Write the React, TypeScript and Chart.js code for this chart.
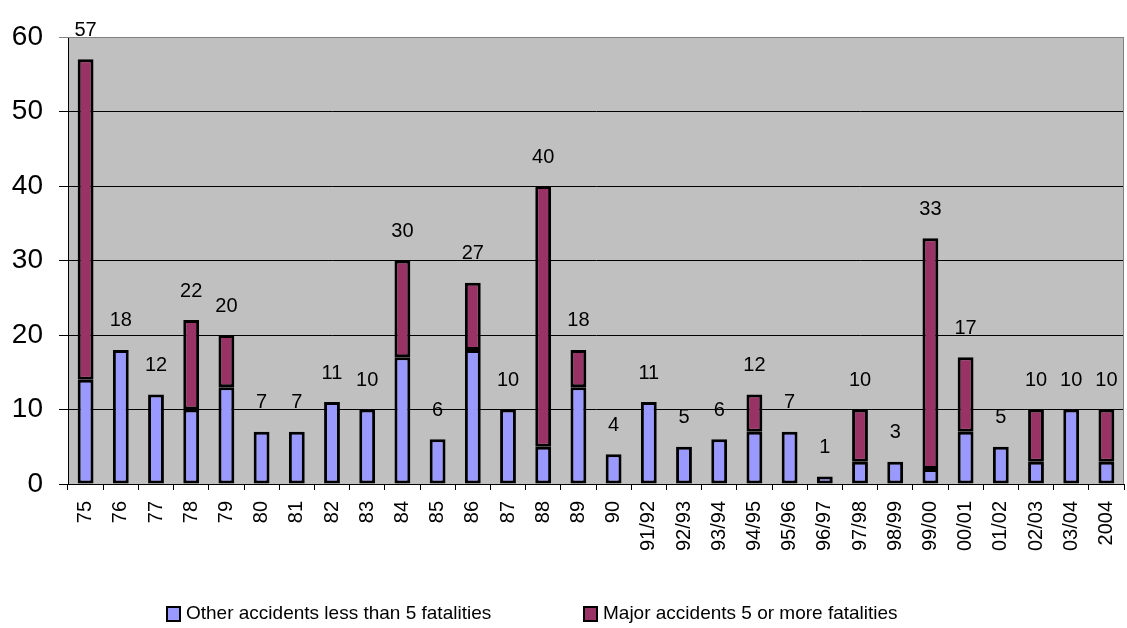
import React, { useEffect, useRef } from "react";
import { Chart, registerables } from "chart.js";

Chart.register(...registerables);

const categories = [
  "75", "76", "77", "78", "79", "80", "81", "82", "83", "84",
  "85", "86", "87", "88", "89", "90", "91/92", "92/93", "93/94", "94/95",
  "95/96", "96/97", "97/98", "98/99", "99/00", "00/01", "01/02", "02/03", "03/04", "2004",
];

const otherAccidents = [
  14, 18, 12, 10, 13, 7, 7, 11, 10, 17,
  6, 18, 10, 5, 13, 4, 11, 5, 6, 7,
  7, 1, 3, 3, 2, 7, 5, 3, 10, 3,
];

const majorAccidents = [
  43, 0, 0, 12, 7, 0, 0, 0, 0, 13,
  0, 9, 0, 35, 5, 0, 0, 0, 0, 5,
  0, 0, 7, 0, 31, 10, 0, 7, 0, 7,
];

const seriesLabels = [
  "Other accidents less than 5 fatalities",
  "Major accidents 5 or more fatalities",
];

const yTicks = [0, 10, 20, 30, 40, 50, 60];

const FONT = "Arial, 'Liberation Sans', sans-serif";

export default function App() {
  const canvasRef = useRef<HTMLCanvasElement | null>(null);

  useEffect(() => {
    document.body.style.margin = "0";
    const canvas = canvasRef.current;
    if (!canvas) return;

    const bgPlugin = {
      id: "plotBg",
      beforeDraw(chart: any) {
        const { ctx, chartArea } = chart;
        ctx.save();
        ctx.fillStyle = "#C0C0C0";
        ctx.fillRect(chartArea.left, chartArea.top, chartArea.right - chartArea.left, chartArea.bottom - chartArea.top);
        ctx.restore();
      },
      afterDraw(chart: any) {
        const { ctx, chartArea } = chart;
        ctx.save();
        ctx.strokeStyle = "#808080";
        ctx.lineWidth = 1;
        ctx.beginPath();
        ctx.moveTo(chartArea.left, chartArea.top + 0.5);
        ctx.lineTo(chartArea.right - 0.5, chartArea.top + 0.5);
        ctx.lineTo(chartArea.right - 0.5, chartArea.bottom);
        ctx.stroke();
        ctx.restore();
      },
    };

    const totalsPlugin = {
      id: "totals",
      afterDatasetsDraw(chart: any) {
        const { ctx, scales } = chart;
        ctx.save();
        ctx.font = `20px ${FONT}`;
        ctx.fillStyle = "#000";
        ctx.textAlign = "center";
        ctx.textBaseline = "middle";
        categories.forEach((_, i) => {
          const total = otherAccidents[i] + majorAccidents[i];
          const x = scales.x.getPixelForValue(i);
          const y = scales.y.getPixelForValue(total);
          ctx.fillText(String(total), x, y - 29);
        });
        ctx.restore();
      },
    };

    const legendPlugin = {
      id: "customLegend",
      afterDraw(chart: any) {
        const { ctx } = chart;
        const items = [
          { x: 167, color: "#9999FF", text: seriesLabels[0] },
          { x: 584, color: "#993366", text: seriesLabels[1] },
        ];
        ctx.save();
        ctx.font = `19px ${FONT}`;
        ctx.textBaseline = "middle";
        ctx.textAlign = "left";
        items.forEach((it) => {
          ctx.fillStyle = it.color;
          ctx.fillRect(it.x, 607, 13, 14);
          ctx.strokeStyle = "#000";
          ctx.lineWidth = 2;
          ctx.strokeRect(it.x, 607, 13, 14);
          ctx.fillStyle = "#000";
          ctx.fillText(it.text, it.x + 19, 614);
        });
        ctx.restore();
      },
    };

    const chart = new Chart(canvas, {
      type: "bar",
      data: {
        labels: categories,
        datasets: [
          {
            label: seriesLabels[0],
            data: otherAccidents.map((v) => (v === 0 ? null : v)),
            backgroundColor: "#9999FF",
            borderColor: "#000000",
            borderWidth: 3,
            borderSkipped: false,
            barPercentage: 0.45,
            categoryPercentage: 1,
          },
          {
            label: seriesLabels[1],
            data: majorAccidents.map((v) => (v === 0 ? null : v)),
            backgroundColor: "#993366",
            borderColor: "#000000",
            borderWidth: 3,
            borderSkipped: false,
            barPercentage: 0.45,
            categoryPercentage: 1,
          },
        ],
      },
      options: {
        responsive: false,
        animation: false,
        layout: { padding: { top: 37, right: 3, left: 0, bottom: 0 } },
        plugins: {
          legend: { display: false },
          tooltip: { enabled: false },
        },
        scales: {
          x: {
            stacked: true,
            afterFit: (scale: any) => {
              scale.height = 144;
              scale.paddingLeft = 0;
              scale.paddingRight = 0;
            },
            grid: {
              display: true,
              drawOnChartArea: false,
              drawTicks: true,
              tickLength: 6,
              offset: true,
              color: "#000",
            },
            border: { display: true, color: "#000", width: 1 },
            ticks: {
              autoSkip: false,
              maxRotation: 90,
              minRotation: 90,
              padding: 11,
              color: "#000",
              font: { family: FONT, size: 20 },
            },
          },
          y: {
            stacked: true,
            min: 0,
            max: 60,
            afterFit: (scale: any) => {
              scale.width = 68;
              scale.paddingTop = 0;
              scale.paddingBottom = 0;
            },
            afterBuildTicks: (scale: any) => {
              scale.ticks = yTicks.map((v) => ({ value: v }));
            },
            grid: {
              color: (c: any) => (c.tick && c.tick.value === 60 ? "#808080" : "#000"),
              tickLength: 9,
              lineWidth: 1,
            },
            border: { display: true, color: "#000", width: 1 },
            ticks: {
              padding: 16,
              color: "#000",
              font: { family: FONT, size: 28 },
            },
          },
        },
      },
      plugins: [bgPlugin, totalsPlugin, legendPlugin],
    } as any);

    return () => chart.destroy();
  }, []);

  return (
    <div style={{ position: "absolute", left: 0, top: 0, width: 1127, height: 628, background: "#fff" }}>
      <canvas ref={canvasRef} width={1127} height={628} style={{ display: "block" }} />
    </div>
  );
}
